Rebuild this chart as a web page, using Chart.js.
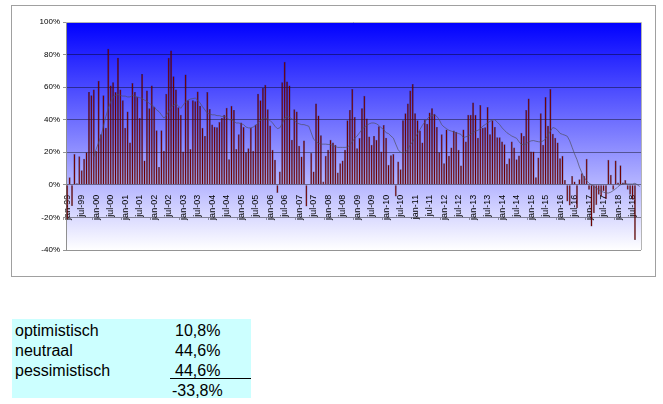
<!DOCTYPE html>
<html>
<head>
<meta charset="utf-8">
<script src="https://cdn.jsdelivr.net/npm/chart.js@4/dist/chart.umd.min.js"></script>
<style>
  html, body { margin: 0; padding: 0; background: #fff; }
  body { width: 663px; height: 404px; position: relative; overflow: hidden; font-family: "Liberation Sans", Arial, sans-serif; }
  #wrap { position: absolute; left: 0; top: 0; width: 663px; height: 285px; }
  #box { position: absolute; left: 12px; top: 319px; width: 239px; height: 79px; background: #ccffff; }
  .row { position: absolute; left: 15px; height: 20px; line-height: 20px; font-size: 16px; color: #000; white-space: nowrap; }
  .val { position: absolute; height: 20px; line-height: 20px; font-size: 16px; color: #000; white-space: nowrap; }
  #uline { position: absolute; left: 170px; top: 378px; width: 81px; height: 1px; background: #000; }
</style>
</head>
<body>
<div id="wrap"><canvas id="chart"></canvas></div>
<div id="box"></div>
<div id="uline"></div>
<div id="table"></div>
<script>
// maanden jan-99 t/m okt-18
const years = ['99','00','01','02','03','04','05','06','07','08','09','10','11','12','13','14','15','16','17','18'];
const months = ['jan','feb','mrt','apr','mei','jun','jul','aug','sep','okt','nov','dec'];
const labels = [];
years.forEach(y => months.forEach(m => labels.push(m + '-' + y)));
labels.length = 238;

// saldo per maand (%)
const saldo = [
  -21.5, 4.7, -13, 19, 1, 17.5, 9, 16, 20, 57, 55, 58.5,
  21, 64, 31, 55, 35, 83.5, 61, 63, 57, 78, 58.5, 52,
  35, 45, 26, 62.5, 57, 54, 41, 68, 15, 58, 47, 61,
  48, 33.5, 11, 33.5, 21, 56, 78, 82.5, 66.7, 58.5, 47.6, 43,
  20.5, 67.7, 52, 22, 52, 51.3, 57.4, 48.6, 35, 30, 57, 46.6,
  37, 35.7, 35.3, 38.6, 41, 43, 47.3, 15.8, 48.6, 46, 22, 31,
  38.3, 35.5, 20, 22.5, 35, 21, 37, 56, 52, 59.5, 61.5, 46.5,
  36.5, 21.5, 15.4, -5, 8.2, 63, 75.6, 63.5, 61, 27.7, 46.5, 45,
  24, 17.4, 27.3, -13.3, 0, 19.5, 8.2, 50, 42.6, 30.5, 2, 17.8,
  21.5, 27.7, 26, 24.6, 7.6, 13.3, 15, 21.5, 39.6, 46, 58.8, 41.6,
  22.5, 28.7, 47, 54.7, 40.8, 29.7, 24.6, 30, 27.7, 36, 20.5, 36.7,
  29, 12.3, 18.2, 19, -7.2, 14.4, 9.6, 39.6, 44, 50, 58, 62,
  44, 39.6, 33.4, 26, 40, 37.5, 44.5, 47, 43.7, 35.5, 20, 31,
  13.3, 34, 17.8, 23, 33.4, 32.6, 21.5, 11.9, 34, 26.6, 43, 43,
  50.6, 43, 29, 49, 35, 35.3, 47.8, 31, 39.6, 35.5, 29.3, 29.3,
  26.6, 25, 13, 16.4, 26.6, 23, 15.8, 18, 32, 30, 46, 53,
  20.5, 20.5, 4.7, 16.8, 44, 24.6, 54, 36.3, 58.8, 31.4, 29, 26,
  16.4, 17.8, 3, -10.2, -12.7, 5.5, 2, -14.4, 3.5, 7.2, 5.5, 16,
  -3, -25.6, -17.4, -12.3, -6, -7.2, -4, -8.8, 15.4, 6.2, -3, 15,
  1.5, 12, 1.5, 3, -3, -6, -9.2, -33.8, null, null
];

// voortschrijdend gemiddelde (%)
const gemiddelde = [
  null, null, null, null, null, null, null, null, null, null, null, 17,
  22, 26, 30, 36, 42, 47, 51, 54, 55, 55.5, 55, 54.5,
  54.5, 54, 54, 55, 54.5, 54, 53.5, 53, 52, 51.3, 50, 49,
  48, 46, 45, 43, 41, 42.5, 45, 47.5, 49, 49.8, 48.5, 47,
  49, 51, 52, 52.7, 53, 53.3, 52, 50.3, 48, 46, 44, 43.5,
  43, 43, 42.5, 42.5, 42, 42, 41.5, 40, 40, 39, 38, 38,
  37.5, 37, 35.5, 35, 35, 35.5, 36.5, 38, 39.5, 40.5, 41, 40.5,
  39.5, 38, 36, 34.5, 35, 37.5, 41, 42, 41.5, 40.5, 39.5, 38,
  37.5, 37, 37, 36.5, 36, 32, 28, 26.7, 25.5, 25, 25, 25,
  24.8, 24.8, 24, 23.5, 23, 23, 23, 23, 23.2, 24.5, 26.5, 28.5,
  30, 32, 34, 35.5, 36.5, 37.5, 38, 38, 37.5, 36.5, 35, 34,
  32, 31.5, 30, 28.7, 25, 21.5, 20, 19.5, 20, 22, 24.5, 26.5,
  29, 31.5, 34, 36.5, 38.5, 40.5, 42, 42.5, 43, 42, 40, 37,
  35.5, 34.5, 33.5, 33, 32.5, 32, 31.5, 31, 29, 29.5, 30, 31,
  32, 33, 33.5, 34.5, 36, 37, 38, 39, 40, 40, 38.5, 37,
  35, 33.5, 32, 31, 30, 29.3, 28.6, 26.5, 24.8, 24.8, 25.2, 26.4,
  27, 27.2, 26.8, 26.5, 26.3, 27, 28.2, 30.5, 33, 35.2, 34.7, 33.5,
  31.6, 31, 30.5, 29.8, 27, 23, 19, 15.5, 11, 7.5, 4.5, 2.5,
  1, 0, -1, -2, -3, -4, -4.5, -5, -5, -4.5, -3.5, -2.5,
  -1, 0, 0.5, 1, 0.5, 0.5, 0.5, 1, 0, -1
];

const yTicks = [-40, -20, 0, 20, 40, 60, 80, 100];

// tabel onder de grafiek
const tabelNamen = ['optimistisch', 'neutraal', 'pessimistisch', ''];
const tabelWaarden = ['10,8%', '44,6%', '44,6%', '-33,8%'];

const tbl = document.getElementById('table');
tabelNamen.forEach((n, i) => {
  const r = document.createElement('div');
  r.className = 'row'; r.style.top = (321 + i * 20) + 'px'; r.textContent = n;
  tbl.appendChild(r);
  const v = document.createElement('div');
  v.className = 'val'; v.style.top = (321 + i * 20) + 'px';
  v.style.left = (tabelWaarden[i].startsWith('-') ? 172 : 175) + 'px';
  v.textContent = tabelWaarden[i];
  tbl.appendChild(v);
});

const achtergrond = {
  id: 'achtergrond',
  beforeDraw(chart) {
    const { ctx, chartArea: a } = chart;
    const g = ctx.createLinearGradient(0, a.top, 0, a.bottom);
    g.addColorStop(0, '#0000ff');
    g.addColorStop(1, '#ffffff');
    ctx.save();
    ctx.fillStyle = g;
    ctx.fillRect(a.left, a.top, a.right - a.left, a.bottom - a.top);
    ctx.restore();
  },
  afterDraw(chart) {
    const { ctx, chartArea: a } = chart;
    ctx.save();
    ctx.strokeStyle = '#b4b4b4';
    ctx.lineWidth = 1;
    ctx.beginPath();
    ctx.moveTo(a.left, a.top + 0.5); ctx.lineTo(a.right + 0.5, a.top + 0.5);
    ctx.lineTo(a.right + 0.5, a.bottom);
    ctx.stroke();
    ctx.strokeStyle = '#a0a0a0';
    ctx.strokeRect(11.5, 5.5, 644, 271);
    ctx.restore();
  }
};

new Chart(document.getElementById('chart'), {
  data: {
    labels,
    datasets: [
      { type: 'line', data: gemiddelde, borderColor: 'rgba(80,80,100,0.7)', borderWidth: 1, pointRadius: 0, tension: 0, order: 0 },
      { type: 'bar', data: saldo, backgroundColor: '#6e0000', borderColor: 'rgba(0,0,0,0.55)', borderWidth: 0.5, barPercentage: 0.85, categoryPercentage: 1, order: 1 }
    ]
  },
  options: {
    responsive: true, maintainAspectRatio: false, animation: false,
    layout: { padding: { left: 20, top: 22, right: 22, bottom: 35 } },
    plugins: { legend: { display: false }, tooltip: { enabled: false } },
    scales: {
      x: {
        position: { y: 0 },
        grid: { display: false },
        border: { display: false },
        ticks: {
          autoSkip: false, minRotation: 90, maxRotation: 90, padding: 2,
          color: '#000', font: { family: 'Liberation Sans', size: 9 },
          callback: (v, i) => i % 6 === 0 ? labels[i] : ''
        }
      },
      y: {
        min: -40, max: 100,
        afterFit: s => { s.width = 46; },
        afterBuildTicks: s => { s.ticks = yTicks.map(v => ({ value: v })); },
        grid: { color: 'rgba(0,0,0,0.42)', tickLength: 3 },
        border: { color: '#909090' },
        ticks: { color: '#000', padding: 3, font: { family: 'Liberation Sans', size: 8 }, callback: v => v + '%' }
      }
    }
  },
  plugins: [achtergrond]
});
</script>
</body>
</html>
